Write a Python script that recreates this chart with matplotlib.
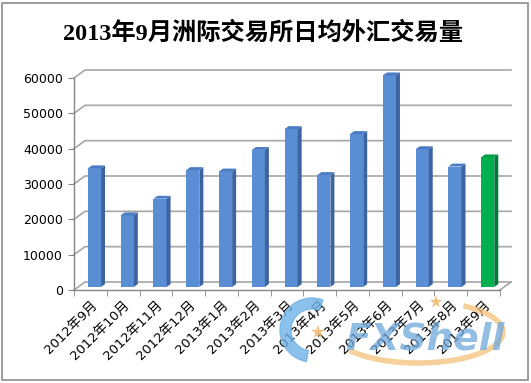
import matplotlib
matplotlib.use('Agg')
import matplotlib.pyplot as plt
import numpy as np
from matplotlib.patches import Polygon, Rectangle, Wedge, Arc

title = '2013年9月洲际交易所日均外汇交易量'
months = ['2012年9月', '2012年10月', '2012年11月', '2012年12月',
          '2013年1月', '2013年2月', '2013年3月', '2013年4月',
          '2013年5月', '2013年6月', '2013年7月', '2013年8月', '2013年9月']
volumes = [33600, 20300, 25000, 33100, 32700, 38800, 44700,
           31700, 43300, 59900, 39000, 34100, 36700]
yticks = [0, 10000, 20000, 30000, 40000, 50000, 60000]

W, H = 531, 383
fig = plt.figure(figsize=(W / 100, H / 100), dpi=100)
fig.patch.set_facecolor('white')
fig.add_artist(Rectangle((2 / W, 3 / H), 526 / W, 377 / H, transform=fig.transFigure,
                         fill=False, edgecolor='#8C8C8C', lw=1.2))

ax = fig.add_axes([74 / W, 93 / H, 426 / W, 212 / H])
n = len(months)
ax.set_xlim(-0.5, n - 0.5)
ax.set_ylim(yticks[0], yticks[-1])

# 3d depth of the plot box, in data units
DX, DY = 0.336, 2264
grid_c = '#A6A6A6'
for t in yticks:
    ax.plot([-0.5, -0.5 + DX, n - 0.5 + DX], [t, t + DY, t + DY],
            color=grid_c, lw=1.2, clip_on=False, zorder=1)
ax.plot([n - 0.5, n - 0.5 + DX], [0, DY], color=grid_c, lw=1.2, clip_on=False, zorder=1)

# bars: front face + side + top
f, w, sd = 0.375, 0.4, 0.36
x = np.arange(n) + f * DX
base = f * DY
front = ['#5A8ED4'] * (n - 1) + ['#00B050']
side = ['#3B64A0'] * (n - 1) + ['#00793A']
top = ['#4A7CC4'] * (n - 1) + ['#009A46']
ax.bar(x, volumes, width=w, bottom=base, color=front, zorder=3, clip_on=False)
for i, v in enumerate(volumes):
    xl, xr = x[i] - w / 2, x[i] + w / 2
    yt = base + v
    ax.add_patch(Polygon([(xr, base), (xr + sd * DX, base + sd * DY),
                          (xr + sd * DX, yt + sd * DY), (xr, yt)],
                         closed=True, facecolor=side[i], edgecolor='none',
                         zorder=3, clip_on=False))
    ax.add_patch(Polygon([(xl, yt), (xr, yt), (xr + sd * DX, yt + sd * DY),
                          (xl + sd * DX, yt + sd * DY)],
                         closed=True, facecolor=top[i], edgecolor='none',
                         zorder=3, clip_on=False))

for s in ['top', 'right']:
    ax.spines[s].set_visible(False)
for s in ['left', 'bottom']:
    ax.spines[s].set_color('#868686')
    ax.spines[s].set_linewidth(1.0)
ax.set_facecolor('none')

ax.set_yticks(yticks)
ax.set_yticklabels([str(t) for t in yticks])
ax.tick_params(axis='y', length=4, color='#868686', pad=4, labelsize=9)

ax.set_xticks(np.arange(n))
ax.set_xticklabels(months, rotation=45, ha='right', va='top', rotation_mode='anchor',
                   family=['DejaVu Sans', 'Noto Sans CJK SC'], fontsize=9.5)
ax.set_xticks(np.arange(n + 1) - 0.5, minor=True)
ax.tick_params(axis='x', which='major', length=0, pad=6)
ax.tick_params(axis='x', which='minor', length=4, color='#868686')

fig.text(263 / W, 1 - 33 / H, title, ha='center', va='center', fontsize=17.5,
         fontweight='bold', family=['Liberation Serif', 'Noto Sans CJK SC'])

# watermark, drawn in pixel coords on an overlay (y grows downwards)
wm = fig.add_axes([0, 0, 1, 1], zorder=5)
wm.set_xlim(0, W)
wm.set_ylim(H, 0)
wm.axis('off')
wm.add_patch(Arc((418, 332), 170, 62, theta1=330, theta2=165, color='#F5C27A',
                 lw=4, alpha=0.75))
wm.add_patch(Wedge((312, 330), 32, 100, 290, width=11, color='#6FB2E6', alpha=0.8))
wm.scatter([318, 436], [332, 302], marker='*', s=[110, 90], color='#F2B56A',
           alpha=0.85, edgecolors='none')
wm.text(425, 339, 'FXShell', ha='center', va='center', fontsize=27,
        fontweight='bold', style='italic', color='#6FA8DC', alpha=0.75)

fig.savefig('out.png', dpi=100)
